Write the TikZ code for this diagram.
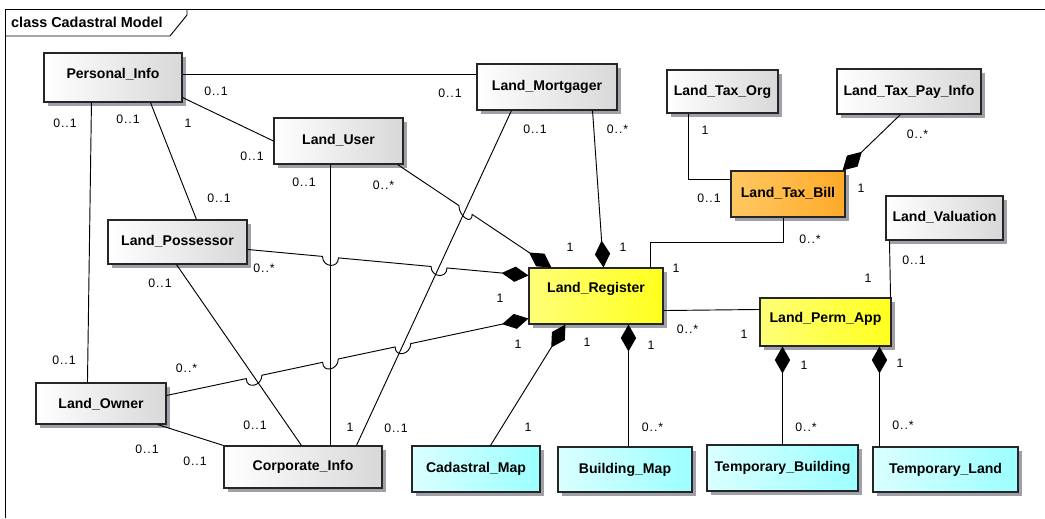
\documentclass[tikz,border=0pt]{standalone}
\usepackage{fontspec}
\setmainfont{Liberation Sans}
\newfontfamily\multfont[LetterSpace=8]{Liberation Sans}
\usepackage{tikz}
\usetikzlibrary{calc}
\usetikzlibrary{positioning, shadows}
\usetikzlibrary{arrows.meta}

\definecolor{shadowgray}{HTML}{A0A0A8}
\definecolor{gryB}{HTML}{D8D8D8}
\definecolor{ylwA}{HTML}{FFFF78}
\definecolor{ylwB}{HTML}{FFFF1E}
\definecolor{orgA}{HTML}{FFC862}
\definecolor{orgB}{HTML}{FFAA2A}
\definecolor{cyaA}{HTML}{DAFFFF}
\definecolor{cyaB}{HTML}{9CFFFF}

\begin{document}
\begin{tikzpicture}[
    x=0.03cm, y=-0.03cm,
    cls/.style={rectangle, draw=black!85, line width=0.9pt, inner sep=0pt,
        font=\fontsize{12}{14}\selectfont\bfseries, text height=8.5pt, text depth=2.5pt,
        drop shadow={shadow xshift=0.12cm, shadow yshift=-0.12cm, fill=shadowgray, opacity=1}},
    plain/.style={cls, left color=white, right color=gryB},
    core/.style={cls, left color=ylwA, right color=ylwB},
    bill/.style={cls, left color=orgA, right color=orgB},
    map/.style={cls, left color=cyaA, right color=cyaB},
    mult/.style={font=\multfont\fontsize{10.5}{12}\selectfont, inner sep=0pt},
    edge/.style={line width=0.8pt, black},
    comp/.style={edge, {Diamond[length=23pt, width=13pt]}-},
    frame/.style={line width=0.8pt, black},
    title/.style={font=\fontsize{12.3}{14}\selectfont\bfseries, inner sep=0pt}
]
    \useasboundingbox (0,0) rectangle (1045,518);

    % --- frame
    \draw[frame] (5,518) -- (5,9) -- (1045,9);
    \draw[frame] (5,36) -- (170,36) -- (187,15) -- (187,9);
    \node[title, anchor=west] (ttl) at (11,22) {class Cadastral Model};

    % --- parties (left)
    \node[plain, minimum width=4.14cm, minimum height=1.47cm, text depth=6.5pt] (PI) at (113,77.5) {Personal\_Info};
    \node[plain, minimum width=3.87cm, minimum height=1.38cm] (LU) at (338.5,141) {Land\_User};
    \node[plain, minimum width=4.20cm, minimum height=1.38cm] (LM) at (547,87) {Land\_Mortgager};
    \node[plain, minimum width=4.17cm, minimum height=1.32cm] (LP) at (177.5,242) {Land\_Possessor};
    \node[plain, minimum width=3.90cm, minimum height=1.23cm, text depth=0.5pt] (LO) at (101,403.5) {Land\_Owner};
    \node[plain, minimum width=4.74cm, minimum height=1.26cm] (CI) at (303,467) {Corporate\_Info};

    % --- tax (top right)
    \node[plain, minimum width=3.33cm, minimum height=1.29cm] (LTO) at (722.5,91.5) {Land\_Tax\_Org};
    \node[plain, minimum width=4.32cm, minimum height=1.35cm] (LTP) at (909,91.5) {Land\_Tax\_Pay\_Info};
    \node[bill, minimum width=3.42cm, minimum height=1.38cm] (LTB) at (788,194) {Land\_Tax\_Bill};
    \node[plain, minimum width=3.51cm, minimum height=1.32cm] (LV) at (944.5,218) {Land\_Valuation};

    % --- register and permit
    \node[core, minimum width=4.02cm, minimum height=1.68cm, text depth=14.5pt] (LR) at (596,296) {Land\_Register};
    \node[core, minimum width=3.93cm, minimum height=1.44cm, text depth=7.5pt] (LPA) at (825.5,322) {Land\_Perm\_App};

    % --- maps (bottom)
    \node[map, minimum width=3.84cm, minimum height=1.38cm] (CM) at (476,469) {Cadastral\_Map};
    \node[map, minimum width=4.02cm, minimum height=1.35cm] (BM) at (625,469.5) {Building\_Map};
    \node[map, minimum width=4.53cm, minimum height=1.38cm] (TB) at (782.5,468) {Temporary\_Building};
    \node[map, minimum width=4.35cm, minimum height=1.35cm] (TL) at (945.5,469.5) {Temporary\_Land};

    % --- end points of crossing lines
    \coordinate (luC) at ($(LU.south west)+(57,0)$);
    \coordinate (ciU) at ($(CI.north west)+(107,0)$);
    \coordinate (lmC) at ($(LM.south west)+(35,0)$);
    \coordinate (ciM) at ($(CI.north west)+(133,0)$);
    \coordinate (lpC) at ($(LP.south west)+(69,0)$);
    \coordinate (ciP) at ($(CI.north west)+(78,0)$);
    \coordinate (lpE) at ($(LP.north east)+(0,30)$);
    \coordinate (lrW1) at ($(LR.north west)+(0,8)$);
    \coordinate (loE) at ($(LO.north east)+(0,13)$);
    \coordinate (lrW2) at ($(LR.south west)+(0,-6)$);
    \coordinate (luS) at ($(LU.south east)+(-6,0)$);
    \coordinate (lrN1) at ($(LR.north west)+(23,0)$);

    \coordinate (hA) at (intersection of lpE--lrW1 and luC--ciU);
    \coordinate (hB) at (intersection of lpE--lrW1 and lmC--ciM);
    \coordinate (hC) at (intersection of loE--lrW2 and lpC--ciP);
    \coordinate (hD) at (intersection of loE--lrW2 and luC--ciU);
    \coordinate (hE) at (intersection of loE--lrW2 and lmC--ciM);
    \coordinate (hF) at (intersection of luS--lrN1 and lmC--ciM);

    % --- associations
    \draw[edge] ($(PI.north east)+(0,22)$) -- ($(LM.north west)+(0,11)$);
    \draw[edge] ($(PI.south east)+(0,-5)$) -- (LU.west);
    \draw[edge] ($(PI.south west)+(48,0)$) -- ($(LO.north west)+(52,0)$);
    \draw[edge] ($(PI.south west)+(107,0)$) -- ($(LP.north west)+(89,0)$);
    \draw[edge] (luC) -- (ciU);
    \draw[edge] (lmC) -- (ciM);
    \draw[edge] (lpC) -- (ciP);
    \draw[edge] ($(LO.south east)+(-9,0)$) -- (CI.north west);
    \draw[edge] ($(LR.north west)+(122,0)$) |- ($(LTB.south west)+(53,25)$) -- ($(LTB.south west)+(53,0)$);
    \draw[edge] ($(LTO.south west)+(22,0)$) |- ($(LTB.north west)+(0,9)$);
    \draw[edge] ($(LR.south east)+(0,-14)$) -- ($(LPA.north west)+(0,12)$);
    \draw[edge] ($(LV.south west)+(4,0)$) -- ($(LPA.north east)+(-1,0)$);

    % --- compositions
    \draw[comp] ($(LTB.north east)+(-3,0)$) -- ($(LTP.south west)+(64,0)$);
    \draw[comp] ($(LR.north west)+(75,0)$) -- ($(LM.south east)+(-25,0)$);
    \draw[comp] ($(LR.south west)+(37,0)$) -- ($(CM.north west)+(79,0)$);
    \draw[comp] ($(LR.south west)+(100,0)$) -- ($(BM.north west)+(71,0)$);
    \draw[comp] ($(LPA.south west)+(23,0)$) -- ($(TB.north west)+(76,0)$);
    \draw[comp] ($(LPA.south west)+(120,0)$) -- ($(TL.north west)+(7,0)$);

    % compositions with line hops
    \draw[comp] (lrN1) -- ($(hF)!0.24cm!(lrN1)$) .. controls +(0,11) and +(0,11) .. ($(hF)!0.24cm!(luS)$) -- (luS);
    \draw[comp] (lrW1) -- ($(hB)!0.24cm!(lrW1)$) .. controls +(0,11) and +(0,11) .. ($(hB)!0.24cm!(lpE)$)
        -- ($(hA)!0.24cm!(lrW1)$) .. controls +(0,11) and +(0,11) .. ($(hA)!0.24cm!(lpE)$) -- (lpE);
    \draw[comp] (lrW2) -- ($(hE)!0.24cm!(lrW2)$) .. controls +(0,11) and +(0,11) .. ($(hE)!0.24cm!(loE)$)
        -- ($(hD)!0.24cm!(lrW2)$) .. controls +(0,11) and +(0,11) .. ($(hD)!0.24cm!(loE)$)
        -- ($(hC)!0.24cm!(lrW2)$) .. controls +(0,11) and +(0,11) .. ($(hC)!0.24cm!(loE)$) -- (loE);

    % --- multiplicities
    \node[mult] (m1a) at (216,91) {0..1};    \node[mult] (m1b) at (450,93) {0..1};
    \node[mult] (m2a) at (188,123.5) {1};    \node[mult] (m2b) at (252,156) {0..1};
    \node[mult] (m3a) at (65,123) {0..1};    \node[mult] (m3b) at (64,360) {0..1};
    \node[mult] (m4a) at (128,119) {0..1};   \node[mult] (m4b) at (219,198) {0..1};
    \node[mult] (m5a) at (304,182) {0..1};   \node[mult] (m5b) at (350,427) {1};
    \node[mult] (m6a) at (535,129.5) {0..1}; \node[mult] (m6b) at (396,428) {0..1};
    \node[mult] (m7a) at (160,283.5) {0..1}; \node[mult] (m7b) at (255,425) {0..1};
    \node[mult] (m8a) at (147,449.5) {0..1}; \node[mult] (m8b) at (195,461) {0..1};
    \node[mult] (m9a) at (186.5,368) {0..*}; \node[mult] (m9b) at (518,344.5) {1};
    \node[mult] (m10a) at (264,268.5) {0..*}; \node[mult] (m10b) at (500,298) {1};
    \node[mult] (m11a) at (383.5,185) {0..*}; \node[mult] (m11b) at (570,247) {1};
    \node[mult] (m12a) at (617.5,129.5) {0..*}; \node[mult] (m12b) at (623,247) {1};
    \node[mult] (m13a) at (676,268) {1};     \node[mult] (m13b) at (810,239) {0..*};
    \node[mult] (m14a) at (705,130) {1};     \node[mult] (m14b) at (709,198) {0..1};
    \node[mult] (m15a) at (917.5,134) {0..*}; \node[mult] (m15b) at (861,188) {1};
    \node[mult] (m16a) at (687.5,329) {0..*}; \node[mult] (m16b) at (744,334) {1};
    \node[mult] (m17a) at (914,260) {0..1};  \node[mult] (m17b) at (868,278) {1};
    \node[mult] (m18a) at (587,342) {1};     \node[mult] (m18b) at (528,427) {1};
    \node[mult] (m19a) at (651,345) {1};     \node[mult] (m19b) at (652.5,427) {0..*};
    \node[mult] (m20a) at (804,365) {1};     \node[mult] (m20b) at (806,427) {0..*};
    \node[mult] (m21a) at (900,363) {1};     \node[mult] (m21b) at (903,425) {0..*};

\end{tikzpicture}
\end{document}
